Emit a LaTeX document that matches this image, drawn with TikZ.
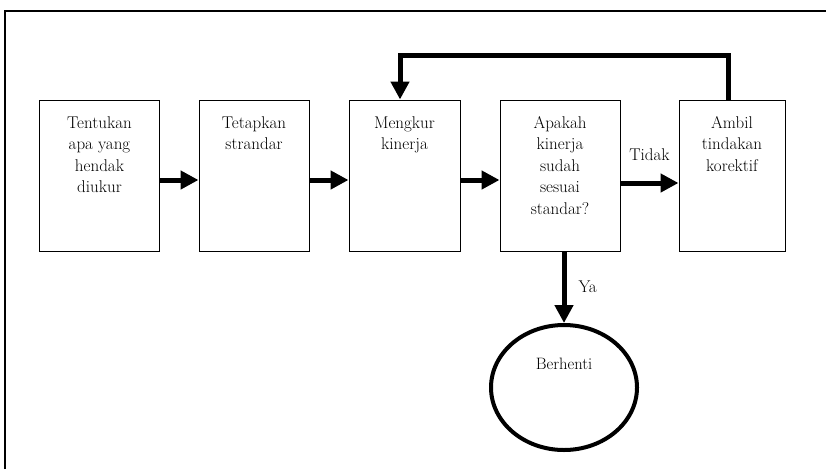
\documentclass[tikz,border=0pt]{standalone}
\usepackage{fontspec}
\usetikzlibrary{arrows.meta,shapes.geometric}
\begin{document}
\begin{tikzpicture}[x=1pt,y=-1pt,
  box/.style={draw,line width=1pt,minimum width=#1,minimum height=151pt,inner sep=0pt},
  box/.default=120pt,
  txt/.style={anchor=north,align=center,inner sep=0pt,font=\fontsize{17}{21.5}\selectfont},
  arr/.style={line width=5pt,-{Triangle[length=18pt,width=18pt]}},
  lbl/.style={inner sep=0pt,font=\fontsize{17}{20}\selectfont}]
\useasboundingbox (0,0) rectangle (826,469);
\draw[line width=2pt] (5,469) -- (5,11) -- (826,11);
% boxes
\node[box] (b1) at (99.5,175.5) {};
\node[box=110pt] (b2) at (254,175.5) {};
\node[box=111pt] (b3) at (404.5,175.5) {};
\node[box] (b4) at (560,175.5) {};
\node[box=106pt] (b5) at (732,175.5) {};
\node[ellipse,draw,line width=4pt,minimum width=146pt,minimum height=125pt,inner sep=0pt] (stop) at (564,387.5) {};
% texts
\node[txt,yshift=-16.5pt] (t1) at (b1.north) {Tentukan\\apa yang\\hendak\\diukur};
\node[txt,yshift=-16.5pt] (t2) at (b2.north) {Tetapkan\\strandar};
\node[txt,yshift=-16.5pt] (t3) at (b3.north) {Mengkur\\kinerja};
\node[txt,yshift=-16.5pt] (t4) at (b4.north) {Apakah\\kinerja\\sudah\\sesuai\\standar?};
\node[txt,yshift=-16.5pt] (t5) at (b5.north) {Ambil\\tindakan\\korektif};
\node[lbl,font=\fontsize{16.5}{18}\selectfont] (t6) at (564,364) {Berhenti};
% arrows
\draw[arr] ([yshift=-4.5pt]b1.east) -- ([yshift=-4.5pt]b2.west);
\draw[arr] ([yshift=-4.5pt]b2.east) -- ([yshift=-4.5pt]b3.west);
\draw[arr] ([yshift=-4.5pt]b3.east) -- ([yshift=-4.5pt]b4.west);
\draw[arr] ([yshift=-7.5pt]b4.east) -- node[lbl,above=20pt] (no) {Tidak} ([yshift=-7.5pt]b5.west);
\draw[arr] (b4.south -| stop.north) -- node[lbl,right=12pt] (yes) {Ya} (stop.north);
\coordinate (fb) at (564,55);
\draw[arr] ([xshift=-4pt]b5.north) |- (fb) -| ([xshift=-4.5pt]b3.north);
\end{tikzpicture}
\end{document}
